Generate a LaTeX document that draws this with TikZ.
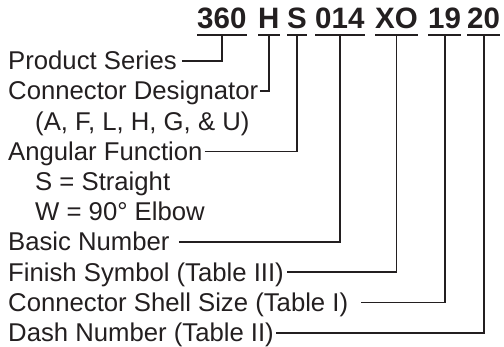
\documentclass[tikz,border=0pt]{standalone}
\usepackage{fontspec}
\setmainfont{Liberation Sans}
\definecolor{ink}{RGB}{35,31,32}
\begin{document}
\begin{tikzpicture}[x=1pt,y=-1pt,
  lbl/.style={anchor=west,inner sep=0pt,text height=17.5pt,text depth=0pt,font=\fontsize{25.7}{30}\selectfont,text=ink},
  part/.style={anchor=base west,inner sep=0pt,text depth=6pt,font=\fontsize{29.5}{34}\selectfont\bfseries,text=ink},
  uline/.style={draw=ink,line width=2pt},
  lead/.style={draw=ink,line width=1.8pt}]
\useasboundingbox (0,0) rectangle (504,347);
% title parts
\node[part] (p1) at (197,28.5) {360};
\node[part] (p2) at (258,28.5) {H};
\node[part] (p3) at (287,28.5) {S};
\node[part] (p4) at (315,28.5) {014};
\node[part] (p5) at (375,28.5) {XO};
\node[part] (p6) at (428,28.5) {19};
\node[part] (p7) at (467,28.5) {20};
\foreach \p in {p1,p2,p3,p4,p5,p6,p7}
  \draw[uline] (\p.south west) -- (\p.south east);
% labels
\node[lbl] (l0) at (8,61)    {Product Series};
\node[lbl] (l1) at (8,91.2)  {Connector Designator};
\node[lbl] (l2) at (35,121.4) {(A, F, L, H, G, \& U)};
\node[lbl] (l3) at (8,151.6) {Angular Function};
\node[lbl] (l4) at (35,181.8) {S = Straight};
\node[lbl] (l5) at (35,212)  {W = 90° Elbow};
\node[lbl] (l6) at (8,242.2) {Basic Number};
\node[lbl] (l7) at (8,272.4) {Finish Symbol (Table III)};
\node[lbl] (l8) at (8,302.6) {Connector Shell Size (Table I)};
\node[lbl] (l9) at (8,332.8) {Dash Number (Table II)};
% leads
\draw[lead] ([xshift=5pt]l0.east) -| (p1.south);
\draw[lead] ([xshift=2pt]l1.east) -| (p2.south);
\draw[lead] ([xshift=2pt]l3.east) -| (p3.south);
\draw[lead] ([xshift=9pt]l6.east) -| (p4.south);
\draw[lead] ([xshift=3pt]l7.east) -| (p5.south);
\draw[lead] ([xshift=13pt]l8.east) -| (p6.south);
\draw[lead] ([xshift=2pt]l9.east) -| (p7.south);
\end{tikzpicture}
\end{document}
